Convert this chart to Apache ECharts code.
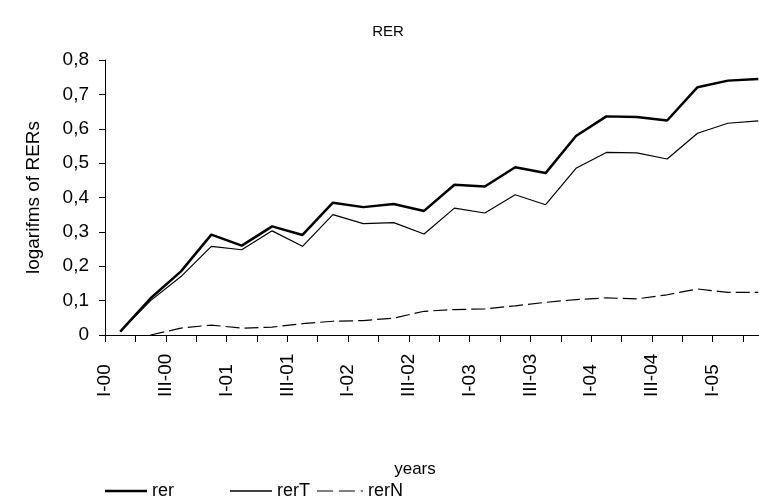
<!DOCTYPE html>
<html>
<head>
<meta charset="utf-8">
<script src="https://cdn.jsdelivr.net/npm/echarts@6/dist/echarts.min.js"></script>
<style>
    html, body { margin: 0; padding: 0; background: #fff; }
    #chart { width: 759px; height: 502px; }
</style>
</head>
<body>
<div id="chart"></div>
<script>
    // quarters of the data (one point per quarter)
    var quarters = ['I-00', 'II-00', 'III-00', 'IV-00', 'I-01', 'II-01', 'III-01', 'IV-01',
        'I-02', 'II-02', 'III-02', 'IV-02', 'I-03', 'II-03', 'III-03', 'IV-03',
        'I-04', 'II-04', 'III-04', 'IV-04', 'I-05', 'II-05'];
    // tick labels sit on the tick marks, one more than the quarters
    var tickLabels = quarters.concat(['III-05']);

    var rer = [0.01, 0.107, 0.185, 0.292, 0.26, 0.316, 0.291, 0.385, 0.372, 0.381, 0.361,
        0.437, 0.432, 0.488, 0.471, 0.579, 0.636, 0.634, 0.624, 0.721, 0.74, 0.745];
    var rerT = [0.01, 0.10, 0.17, 0.258, 0.248, 0.303, 0.258, 0.35, 0.324, 0.327, 0.294,
        0.369, 0.355, 0.408, 0.379, 0.485, 0.531, 0.530, 0.512, 0.587, 0.616, 0.623];
    var rerN = [null, 0, 0.02, 0.029, 0.02, 0.023, 0.033, 0.04, 0.042, 0.049, 0.069,
        0.074, 0.076, 0.085, 0.095, 0.103, 0.108, 0.105, 0.117, 0.134, 0.124, 0.124];

    var font = 'Liberation Sans, Arial, sans-serif';
    var chart = echarts.init(document.getElementById('chart'));

    // one legend per item so each one can sit where the original has it
    function legendAt(name, icon, left, w, h) {
        return {
            data: [{name: name, icon: icon}], left: left, top: 477,
            itemWidth: w, itemHeight: h, itemGap: 5,
            itemStyle: {color: '#000', borderWidth: 0},
            textStyle: {fontFamily: font, fontSize: 18, color: '#000'}
        };
    }

    chart.setOption({
        animation: false,
        title: [{
            text: 'RER', left: 383, top: 19, textAlign: 'center',
            textStyle: {fontFamily: font, fontSize: 15, fontWeight: 'normal', color: '#000'}
        }, {
            text: 'years', left: 410, top: 456, textAlign: 'center',
            textStyle: {fontFamily: font, fontSize: 17, fontWeight: 'normal', color: '#000'}
        }],
        legend: [
            legendAt('rer', 'rect', 100, 42, 2.5),
            legendAt('rerT', 'rect', 225, 42, 1.4),
            legendAt('rerN', 'path://M0 0H14V1H0Z M19 0H33V1H19Z M38 0H40V1H38Z', 312, 46, 1.4)
        ],
        // the original plot runs past the right edge of the picture
        grid: {left: 105, top: 60, width: 668.5, bottom: 167, outerBoundsMode: 'none'},
        xAxis: [{
            type: 'category', data: quarters, boundaryGap: true, show: false
        }, {
            type: 'category', data: tickLabels, boundaryGap: false, position: 'bottom',
            axisLine: {lineStyle: {color: '#000', width: 1}},
            axisTick: {interval: 0, length: 7, lineStyle: {color: '#000'}},
            axisLabel: {
                interval: 1, rotate: 90, align: 'left', margin: 62,
                fontFamily: font, fontSize: 19, color: '#000'
            },
            splitLine: {show: false}
        }],
        yAxis: {
            type: 'value', min: 0, max: 0.8, interval: 0.1,
            name: 'logarifms of RERs', nameLocation: 'middle', nameGap: 62,
            nameTextStyle: {fontFamily: font, fontSize: 19, color: '#000'},
            axisLine: {show: true, lineStyle: {color: '#000', width: 1}},
            axisTick: {show: true, length: 6, lineStyle: {color: '#000'}},
            axisLabel: {
                fontFamily: font, fontSize: 19, color: '#000', margin: 16,
                formatter: function (v) { return String(Math.round(v * 10) / 10).replace('.', ','); }
            },
            splitLine: {show: false}
        },
        series: [{
            name: 'rer', type: 'line', data: rer, xAxisIndex: 0, symbol: 'none',
            lineStyle: {color: '#000', width: 2.5}, itemStyle: {color: '#000'}
        }, {
            name: 'rerT', type: 'line', data: rerT, xAxisIndex: 0, symbol: 'none',
            lineStyle: {color: '#000', width: 1.2}, itemStyle: {color: '#000'}
        }, {
            name: 'rerN', type: 'line', data: rerN, xAxisIndex: 0, symbol: 'none',
            lineStyle: {color: '#000', width: 1.2, type: [14, 5]}, itemStyle: {color: '#000'}
        }]
    });
</script>
</body>
</html>
